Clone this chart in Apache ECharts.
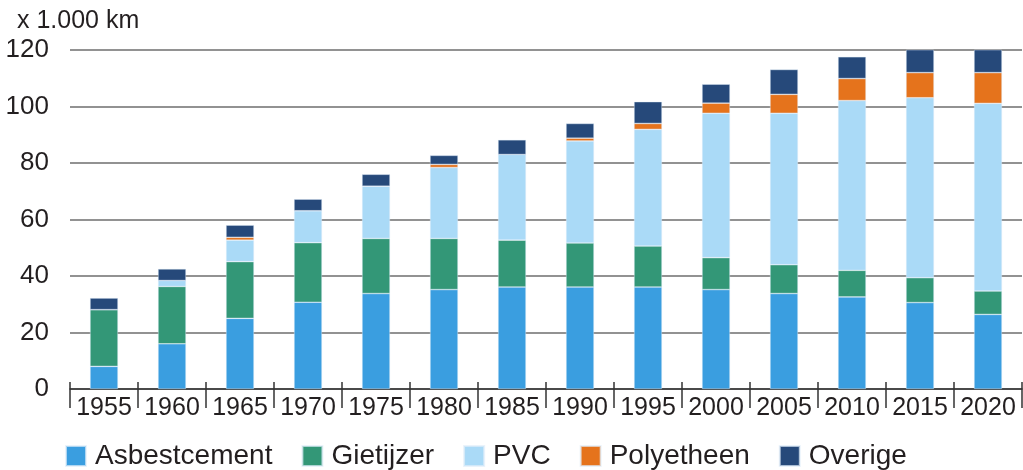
<!DOCTYPE html>
<html>
<head>
<meta charset="utf-8">
<script src="https://cdn.jsdelivr.net/npm/echarts@6/dist/echarts.min.js"></script>
<style>
  html, body { margin: 0; padding: 0; background: #fff; }
  #main { width: 1023px; height: 470px; }
</style>
</head>
<body>
<div id="main"></div>
<script>
// lengte leidingnet, x 1.000 km
var years = ['1955', '1960', '1965', '1970', '1975', '1980', '1985', '1990', '1995', '2000', '2005', '2010', '2015', '2020'];
var asbestcement = [8, 16, 25, 30.7, 33.8, 35.2, 36.1, 36.1, 36.1, 35.2, 33.8, 32.6, 30.6, 26.4];
var gietijzer = [20.1, 20.3, 20.1, 21.1, 19.5, 18.1, 16.6, 15.6, 14.5, 11.3, 10.2, 9.4, 8.8, 8.3];
var pvc = [0, 2.1, 7.6, 11.3, 18.5, 25.1, 30.3, 36.1, 41.3, 51.1, 53.6, 60.1, 63.7, 66.4];
var polyetheen = [0, 0, 1, 0, 0, 1.1, 0, 1, 2.1, 3.6, 6.7, 7.8, 8.9, 10.9];
var overige = [4.1, 4.1, 4.3, 4.1, 4.2, 3.2, 5.2, 5.2, 7.7, 6.7, 8.8, 7.7, 8.5, 9];
var yTicks = [0, 20, 40, 60, 80, 100, 120];

var myChart = echarts.init(document.getElementById('main'));
var font = 'Liberation Sans, Arial, sans-serif';
var textColor = '#231f20';

function serie(name, data, color) {
    return {
        name: name,
        type: 'bar',
        stack: 'net',
        barWidth: 28,
        data: data,
        itemStyle: {
            color: color,
            borderColor: 'rgba(225,238,250,0.7)',
            borderWidth: 0.6
        }
    };
}

option = {
    animation: false,
    title: {
        text: 'x 1.000 km',
        left: 12,
        top: 4,
        textStyle: {
            fontFamily: font,
            fontSize: 25,
            fontWeight: 'normal',
            color: textColor
        }
    },
    legend: {
        left: 60,
        top: 437,
        itemWidth: 20,
        itemHeight: 20,
        itemGap: 29,
        icon: 'rect',
        textStyle: {
            fontFamily: font,
            fontSize: 28,
            color: textColor,
            padding: [0, 0, 0, 4]
        }
    },
    grid: {
        left: 70,
        right: 1,
        top: 50,
        bottom: 81
    },
    xAxis: [{
        type: 'category',
        data: years,
        axisLine: {
            lineStyle: { color: '#333', width: 1.5 }
        },
        axisTick: {
            show: true,
            length: 19,
            lineStyle: { color: '#333', width: 1.5 }
        },
        axisLabel: {
            fontFamily: font,
            fontSize: 25,
            color: textColor,
            margin: 7,
            interval: 0
        }
    }, {
        type: 'category',
        data: years,
        position: 'bottom',
        axisLine: { show: false },
        axisTick: {
            show: true,
            inside: true,
            length: 7,
            lineStyle: { color: '#333', width: 1.5 }
        },
        axisLabel: { show: false }
    }],
    yAxis: {
        type: 'value',
        min: yTicks[0],
        max: yTicks[yTicks.length - 1],
        interval: 20,
        axisLine: { show: false },
        axisTick: { show: false },
        axisLabel: {
            fontFamily: font,
            fontSize: 26,
            color: textColor,
            margin: 21
        },
        splitLine: {
            lineStyle: { color: '#6e6e6e', width: 1.5 }
        }
    },
    series: [
        serie('Asbestcement', asbestcement, '#3a9ee0'),
        serie('Gietijzer', gietijzer, '#339777'),
        serie('PVC', pvc, '#aadaf7'),
        serie('Polyetheen', polyetheen, '#e5731c'),
        serie('Overige', overige, '#26497a')
    ]
};
myChart.setOption(option);
</script>
</body>
</html>
